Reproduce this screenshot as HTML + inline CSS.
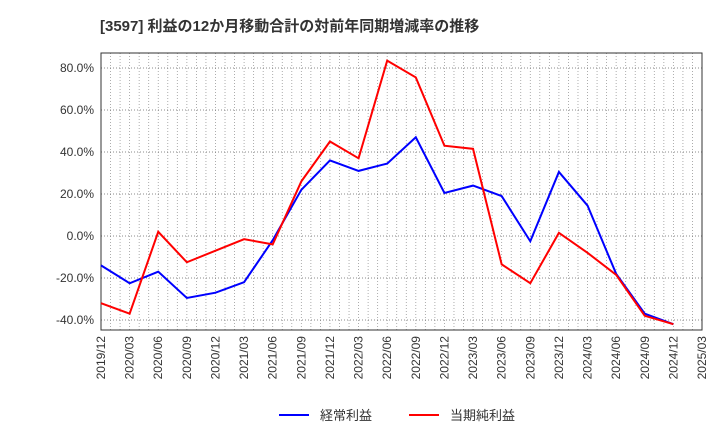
<!DOCTYPE html>
<html><head><meta charset="utf-8"><style>
body{margin:0;background:#fff;width:720px;height:440px;overflow:hidden}
text{font-family:"Liberation Sans","Noto Sans CJK JP",sans-serif}
</style></head><body>
<svg id="c" width="720" height="440" xmlns="http://www.w3.org/2000/svg">
<text x="100" y="31" font-size="15" font-weight="bold" fill="#333">[3597]  利益の12か月移動合計の対前年同期増減率の推移</text>
<g id="grid"></g><g id="axes"></g><g id="series"></g>
<g>
<line x1="279" y1="415" x2="309" y2="415" stroke="#0000ff" stroke-width="2"/>
<text x="320" y="420" font-size="13" fill="#333">経常利益</text>
<line x1="409" y1="415" x2="439" y2="415" stroke="#ff0000" stroke-width="2"/>
<text x="450" y="420" font-size="13" fill="#333">当期純利益</text>
</g>
</svg>
<script>
const categories=["2019/12","2020/03","2020/06","2020/09","2020/12","2021/03","2021/06","2021/09","2021/12","2022/03","2022/06","2022/09","2022/12","2023/03","2023/06","2023/09","2023/12","2024/03","2024/06","2024/09","2024/12","2025/03"];
const ordinary=[-14,-22.5,-17,-29.5,-27,-22,-2,22,36,31,34.5,47,20.5,24,19,-2.5,30.5,14.5,-18,-37,-42];
const net=[-32,-37,2,-12.5,-7,-1.5,-4,26,45,37,83.5,75.5,43,41.5,-13.5,-22.5,1.5,-8,-18.5,-38,-42];
const yTicks=[-40,-20,0,20,40,60,80];
const L=101,R=702,T=53,B=330;
const x=i=>L+(R-L)*i/(categories.length-1);
const y=v=>236-v*(168/80);
const NS="http://www.w3.org/2000/svg";
function mk(p,t,a){const e=document.createElementNS(NS,t);for(const k in a)e.setAttribute(k,a[k]);p.appendChild(e);return e;}
const g=document.getElementById('grid'),ax=document.getElementById('axes'),s=document.getElementById('series');
for(let m=0;m<=63;m++){const xx=L+(R-L)*m/63;const l=mk(g,'line',{x1:xx,y1:T,x2:xx,y2:B,stroke:'#999','stroke-width':0.8,'stroke-dasharray':'1,2'});

}
yTicks.forEach(v=>{const l=mk(g,'line',{x1:L,y1:y(v),x2:R,y2:y(v),stroke:'#666','stroke-width':0.8,'stroke-dasharray':'1,2'});


const t=mk(ax,'text',{x:L-7,y:y(v)+4,'font-size':12,fill:'#333','text-anchor':'end'});t.textContent=v.toFixed(1)+'%';

});
categories.forEach((c,i)=>{const t=mk(ax,'text',{transform:`translate(${x(i)+4},${B+6}) rotate(-90)`,'font-size':12,fill:'#333','text-anchor':'end'});t.textContent=c;

});
const f=mk(ax,'rect',{x:L,y:T,width:R-L,height:B-T,fill:'none',stroke:'#333','stroke-width':1});


[[ordinary,'#0000ff','ordinary-line'],[net,'#ff0000','net-line']].forEach(([d,c,n])=>{
const p=mk(s,'polyline',{points:d.map((v,i)=>x(i)+','+y(v)).join(' '),fill:'none',stroke:c,'stroke-width':2});

});
</script>
</body></html>
